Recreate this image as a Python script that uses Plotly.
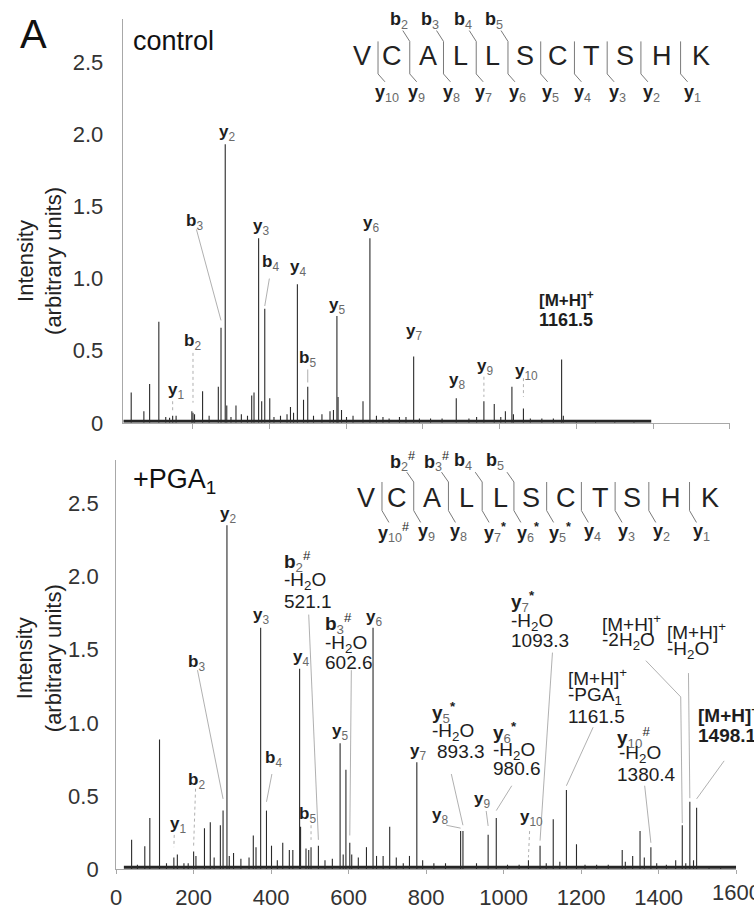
import plotly.graph_objects as go

W, H = 754, 910
FONT = "Liberation Sans, Arial, Helvetica, sans-serif"

# ---------------- data ----------------
control_mz = [40, 73, 88, 112, 130, 140, 148, 157, 198, 201, 205, 226, 243, 267, 274, 285, 289,
              300, 313, 327, 343, 354, 360, 372, 380, 388, 401, 412, 429, 446, 455, 463, 473,
              489, 500, 515, 537, 558, 567, 576, 579, 588, 601, 618, 644, 662, 679, 696, 712,
              739, 756, 776, 791, 820, 850, 887, 920, 940, 959, 986, 1003, 1015, 1032, 1036,
              1062, 1080, 1110, 1140, 1161.5, 1166, 1200, 1250, 1300, 1350]
control_int = [0.21, 0.08, 0.27, 0.70, 0.04, 0.035, 0.05, 0.05, 0.08, 0.07, 0.06, 0.22, 0.05, 0.25, 0.66, 1.93, 0.12,
               0.04, 0.12, 0.06, 0.05, 0.19, 0.21, 1.28, 0.15, 0.79, 0.17, 0.04, 0.05, 0.06, 0.11, 0.07, 0.96,
               0.16, 0.25, 0.05, 0.06, 0.08, 0.09, 0.74, 0.18, 0.09, 0.04, 0.05, 0.15, 1.28, 0.05, 0.04, 0.03,
               0.04, 0.04, 0.46, 0.03, 0.03, 0.03, 0.17, 0.03, 0.04, 0.15, 0.13, 0.04, 0.08, 0.25, 0.06,
               0.10, 0.03, 0.03, 0.03, 0.44, 0.05, 0.02, 0.02, 0.02, 0.02]

pga_mz = [40, 55, 74, 87, 112, 130, 149, 158, 175, 186, 200, 206, 228, 243, 253, 269, 276, 286, 292,
          303, 322, 343, 354, 361, 373, 388, 401, 416, 430, 447, 456, 473.5, 476, 490, 497, 503, 522,
          539, 558, 578, 586, 593, 603, 608, 625, 646, 663, 672, 689, 706, 723, 741, 757, 776, 791,
          820, 850, 889, 895, 930, 960, 981, 1010, 1040, 1064, 1094, 1110, 1128, 1145, 1162, 1188,
          1210, 1240, 1270, 1306, 1314, 1333, 1352, 1363, 1380, 1395, 1420, 1444, 1461, 1470,
          1480.5, 1490, 1498, 1530, 1560]
pga_int = [0.20, 0.03, 0.157, 0.35, 0.886, 0.04, 0.08, 0.10, 0.04, 0.04, 0.12, 0.09, 0.28, 0.32, 0.08, 0.30, 0.40, 2.35, 0.09,
           0.11, 0.07, 0.08, 0.23, 0.15, 1.65, 0.40, 0.16, 0.06, 0.18, 0.13, 0.13, 1.37, 0.29, 0.14, 0.13, 0.15, 0.16,
           0.06, 0.07, 0.86, 0.10, 0.68, 0.18, 0.10, 0.08, 0.15, 1.65, 0.09, 0.09, 0.29, 0.08, 0.04, 0.09, 0.73, 0.06,
           0.04, 0.04, 0.26, 0.26, 0.04, 0.235, 0.35, 0.03, 0.03, 0.06, 0.16, 0.04, 0.34, 0.05, 0.54, 0.17,
           0.03, 0.03, 0.03, 0.13, 0.05, 0.09, 0.26, 0.08, 0.15, 0.04, 0.03, 0.06, 0.30, 0.04,
           0.46, 0.06, 0.42, 0.02, 0.02]

control_baseline_mz = [20, 1395]
pga_baseline_mz = [20, 1600]
baseline_level = [0.012, 0.012]

y_ticks = [0, 0.5, 1.0, 1.5, 2.0, 2.5]
y_tick_text = ["0", "0.5", "1.0", "1.5", "2.0", "2.5"]
x_ticks = [0, 200, 400, 600, 800, 1000, 1200, 1400, 1600]
x_tick_text = ["0", "200", "400", "600", "800", "1000", "1200", "1400", "1600"]

sequence = ["V", "C", "A", "L", "L", "S", "C", "T", "S", "H", "K"]
y_ion_numbers = ["10", "9", "8", "7", "6", "5", "4", "3", "2", "1"]
b_ion_numbers = ["2", "3", "4", "5"]
control_y_marks = ["", "", "", "", "", "", "", "", "", ""]
control_b_marks = ["", "", "", ""]
pga_y_marks = ["#", "", "", "*", "*", "*", "", "", "", ""]
pga_b_marks = ["#", "#", "", ""]

# ---------------- helpers ----------------
def PX(x):
    return x / W

def PY(y):
    return 1 - y / H

SUBC = "#6a6a6a"

def ion(letter, num, mark=""):
    s = f"<b>{letter}</b><sub><span style='color:{SUBC}'>{num}</span></sub>"
    if mark == "*":
        s += "<sup><b>*</b></sup>"
    elif mark:
        s += f"<sup>{mark}</sup>"
    return s

def stick(mz, inten):
    xs, ys = [], []
    for m, h in zip(mz, inten):
        xs += [m, m, None]
        ys += [0, h, None]
    return xs, ys

fig = go.Figure()

for mz, it, bmz, xa, ya in [(control_mz, control_int, control_baseline_mz, "x", "y"),
                            (pga_mz, pga_int, pga_baseline_mz, "x2", "y2")]:
    fig.add_trace(go.Scatter(x=bmz, y=baseline_level, mode="lines",
                             line=dict(color="#262626", width=3), xaxis=xa, yaxis=ya,
                             hoverinfo="skip"))
    xs, ys = stick(mz, it)
    fig.add_trace(go.Scatter(x=xs, y=ys, mode="lines",
                             line=dict(color="#2a2a2a", width=1.1), xaxis=xa, yaxis=ya,
                             hoverinfo="skip"))

annotations = []
shapes = []

def txt(text, x, y, xref, yref, size=17, xanchor="center", yanchor="middle", color="#1e1e1e",
        align="center", angle=0, yshift=0):
    annotations.append(dict(text=text, x=x, y=y, xref=xref, yref=yref, showarrow=False,
                            xanchor=xanchor, yanchor=yanchor, align=align, textangle=angle,
                            yshift=yshift, font=dict(size=size, color=color, family=FONT)))

def peak_height(mz_list, int_list, m):
    best = min(range(len(mz_list)), key=lambda i: abs(mz_list[i] - m))
    return mz_list[best], int_list[best]

def leader(xref, yref, pts, mz_list, int_list, peak, gap, dash="solid"):
    pm, ph = peak_height(mz_list, int_list, peak)
    allp = list(pts) + [(pm, ph + gap)]
    path = "M " + " L ".join(f"{a},{b}" for a, b in allp)
    shapes.append(dict(type="path", path=path, xref=xref, yref=yref,
                       line=dict(color="#9c9c9c", width=0.8, dash=dash)))

# ---------------- top panel labels ----------------
T = ("x", "y")
txt(ion("y", "2"), 290, 2.01, *T)
txt(ion("b", "3"), 205, 1.39, *T)
leader(*T, [(210, 1.34)], control_mz, control_int, 274, 0.05)
txt(ion("y", "3"), 378, 1.36, *T)
txt(ion("b", "4"), 404, 1.11, *T)
leader(*T, [(400, 1.00)], control_mz, control_int, 388, 0.02)
txt(ion("y", "4"), 474, 1.07, *T)
txt(ion("y", "5"), 576, 0.81, *T)
txt(ion("b", "5"), 500, 0.44, *T)
leader(*T, [(500, 0.37)], control_mz, control_int, 500, 0.03)
txt(ion("b", "2"), 200, 0.56, *T)
leader(*T, [(201, 0.485)], control_mz, control_int, 201, 0.07, dash="dot")
txt(ion("y", "1"), 158, 0.22, *T)
leader(*T, [(148, 0.15)], control_mz, control_int, 148, 0.025, dash="dot")
txt(ion("y", "6"), 664, 1.38, *T)
txt(ion("y", "7"), 776, 0.63, *T)
txt(ion("y", "8"), 888, 0.29, *T)
txt(ion("y", "9"), 961, 0.39, *T)
leader(*T, [(959, 0.32)], control_mz, control_int, 959, 0.03, dash="dot")
txt(ion("y", "10"), 1071, 0.355, *T)
leader(*T, [(1062, 0.31)], control_mz, control_int, 1062, 0.08, dash="dot")
txt("<b>[M+H]<sup>+</sup></b>", 1097, 0.86, *T, size=17, xanchor="left")
txt("<b>1161.5</b>", 1097, 0.71, *T, size=18, xanchor="left")

# ---------------- bottom panel labels ----------------
B = ("x2", "y2")
BS = 19
txt(ion("y", "2"), 289, 2.42, *B)
txt(ion("b", "2", "#"), 427, 2.10, *B, size=BS, xanchor="left")
txt("-H<sub>2</sub>O", 427, 1.97, *B, size=BS, xanchor="left")
txt("521.1", 427, 1.83, *B, size=BS, xanchor="left")
leader(*B, [(497, 1.74)], pga_mz, pga_int, 522, 0.04)
txt(ion("y", "3"), 375, 1.73, *B)
txt(ion("b", "3", "#"), 535, 1.68, *B, size=BS, xanchor="left")
txt("-H<sub>2</sub>O", 535, 1.54, *B, size=BS, xanchor="left")
txt("602.6", 535, 1.41, *B, size=BS, xanchor="left")
leader(*B, [(607, 1.36)], pga_mz, pga_int, 603, 0.05)
txt(ion("y", "6"), 665, 1.72, *B)
txt(ion("y", "4"), 476, 1.44, *B)
txt(ion("b", "3"), 207, 1.41, *B)
leader(*B, [(210, 1.36)], pga_mz, pga_int, 276, 0.08)
txt(ion("y", "5"), 579, 0.935, *B)
txt(ion("b", "4"), 407, 0.75, *B)
leader(*B, [(402, 0.65)], pga_mz, pga_int, 388, 0.06)
txt(ion("b", "2"), 207, 0.605, *B)
leader(*B, [(205, 0.55)], pga_mz, pga_int, 200, 0.04, dash="dot")
txt(ion("b", "5"), 494, 0.37, *B)
leader(*B, [(503, 0.30)], pga_mz, pga_int, 503, 0.05, dash="dot")
txt(ion("y", "1"), 159, 0.30, *B)
leader(*B, [(150, 0.234)], pga_mz, pga_int, 149, 0.07, dash="dot")

txt(ion("y", "7", "*"), 1014, 1.83, *B, size=BS, xanchor="left")
txt("-H<sub>2</sub>O", 1014, 1.69, *B, size=BS, xanchor="left")
txt("1093.3", 1014, 1.56, *B, size=BS, xanchor="left")
leader(*B, [(1126, 1.48)], pga_mz, pga_int, 1094, 0.035)

txt("[M+H]<sup>+</sup>", 1249, 1.68, *B, size=BS, xanchor="left")
txt("-2H<sub>2</sub>O", 1249, 1.56, *B, size=BS, xanchor="left")
leader(*B, [(1367, 1.425), (1457, 1.177)], pga_mz, pga_int, 1461, 0.015)

txt("[M+H]<sup>+</sup>", 1416, 1.625, *B, size=BS, xanchor="left")
txt("-H<sub>2</sub>O", 1416, 1.50, *B, size=BS, xanchor="left")
leader(*B, [(1477, 1.34)], pga_mz, pga_int, 1480.5, 0.025)

txt("[M+H]<sup>+</sup>", 1162, 1.31, *B, size=BS, xanchor="left")
txt("-PGA<sub>1</sub>", 1162, 1.18, *B, size=BS, xanchor="left")
txt("1161.5", 1162, 1.04, *B, size=BS, xanchor="left")
leader(*B, [(1231, 0.97)], pga_mz, pga_int, 1162, 0.03)

txt("<b>[M+H]<sup>+</sup></b>", 1496, 1.058, *B, size=BS, xanchor="left")
txt("<b>1498.1</b>", 1496, 0.91, *B, size=BS, xanchor="left")
leader(*B, [(1569, 0.74)], pga_mz, pga_int, 1498, 0.06)

txt(ion("y", "10", "#"), 1288, 0.90, *B, size=BS, xanchor="left")
txt("-H<sub>2</sub>O", 1292, 0.787, *B, size=BS, xanchor="left")
txt("1380.4", 1288, 0.65, *B, size=BS, xanchor="left")
leader(*B, [(1364, 0.57)], pga_mz, pga_int, 1380, 0.03)

txt(ion("y", "6", "*"), 968, 0.935, *B, size=BS, xanchor="left")
txt("-H<sub>2</sub>O", 968, 0.807, *B, size=BS, xanchor="left")
txt("980.6", 968, 0.685, *B, size=BS, xanchor="left")
leader(*B, [(1021, 0.57)], pga_mz, pga_int, 981, 0.05)

txt(ion("y", "5", "*"), 809, 1.07, *B, size=BS, xanchor="left")
txt("-H<sub>2</sub>O", 809, 0.94, *B, size=BS, xanchor="left")
txt("893.3", 822, 0.807, *B, size=BS, xanchor="left")
leader(*B, [(865, 0.65)], pga_mz, pga_int, 895, 0.04)

txt(ion("y", "7"), 778, 0.80, *B)
txt(ion("y", "8"), 835, 0.363, *B)
leader(*B, [(852, 0.30)], pga_mz, pga_int, 889, 0.02)
txt(ion("y", "9"), 945, 0.47, *B)
leader(*B, [(955, 0.397)], pga_mz, pga_int, 960, 0.06)
txt(ion("y", "10"), 1072, 0.35, *B)
leader(*B, [(1067, 0.26)], pga_mz, pga_int, 1064, 0.02, dash="dot")

# last x tick label sits on the right page edge (partly cut, as in the reference)
txt(x_tick_text[-1], x_ticks[-1], 0, "x2", "y2", size=22, color="#333", yanchor="top", yshift=-9)

# ---------------- peptide sequence diagrams ----------------
def sequence_diagram(letter_x, sep_x, ylab_x, blab_x, ly, st, sb, tb, tt, by, yy, ymarks, bmarks):
    for ch, x in zip(sequence, letter_x):
        txt(ch, PX(x), PY(ly), "paper", "paper", size=27, color="#222")
    for i, sx in enumerate(sep_x):
        pts = []
        if 1 <= i <= 4:
            pts.append((sx - 7, tt))
        pts += [(sx, st), (sx, sb), (sx + 7, tb)]
        path = "M " + " L ".join(f"{PX(a)},{PY(b)}" for a, b in pts)
        shapes.append(dict(type="path", path=path, xref="paper", yref="paper",
                           line=dict(color="#7a7a7a", width=1)))
        txt(ion("y", y_ion_numbers[i], ymarks[i]), PX(ylab_x[i] - 2), PY(yy), "paper", "paper",
            size=18, xanchor="left")
    for j, bx in enumerate(blab_x):
        txt(ion("b", b_ion_numbers[j], bmarks[j]), PX(bx - 2), PY(by), "paper", "paper",
            size=18, xanchor="left")

sequence_diagram([359, 389, 425, 458, 490, 523, 556, 590, 624, 661, 701],
                 [375, 407, 441, 474, 506, 539, 573, 606, 640, 680],
                 [372, 405, 440, 473, 507, 540, 573, 608, 642, 683],
                 [387, 418, 452, 483],
                 57, 42, 75, 83, 31, 21, 95, control_y_marks, control_b_marks)
sequence_diagram([363, 394, 429, 464, 498, 529, 564, 599, 631, 670, 710],
                 [379, 411, 446, 480, 512, 545, 580, 614, 648, 689],
                 [375, 415, 448, 482, 515, 547, 583, 617, 652, 692],
                 [387, 421, 452, 484],
                 505, 489, 518, 530, 479, 468, 540, pga_y_marks, pga_b_marks)

# ---------------- panel texts ----------------
txt("A", PX(28), PY(34), "paper", "paper", size=40, color="#111")
txt("control", PX(126), PY(42), "paper", "paper", size=27, xanchor="left", color="#111")
txt("+PGA<sub>1</sub>", PX(126), PY(488), "paper", "paper", size=27, xanchor="left", color="#111")
txt("Intensity<br>(arbitrary units)", PX(34), PY(265), "paper", "paper", size=22, angle=-90, color="#222")
txt("Intensity<br>(arbitrary units)", PX(34), PY(668), "paper", "paper", size=22, angle=-90, color="#222")

AX = dict(showgrid=False, zeroline=False, showline=True, linecolor="#a8a8a8", linewidth=1)
fig.update_layout(
    width=W, height=H, margin=dict(l=0, r=0, t=0, b=0),
    paper_bgcolor="white", plot_bgcolor="white", showlegend=False,
    font=dict(family=FONT, color="#222"),
    xaxis=dict(domain=[PX(117.7), PX(729.7)], range=[18, 1600], anchor="y",
               tickvals=x_ticks, showticklabels=False, ticks="outside", ticklen=5,
               tickcolor="#a8a8a8", **AX),
    yaxis=dict(domain=[PY(429), PY(429 - 2.8 * 146.4)], range=[0, 2.8], anchor="x",
               tickvals=y_ticks, ticktext=y_tick_text, ticks="outside", ticklen=14,
               tickcolor="rgba(0,0,0,0)", tickfont=dict(size=22, color="#333"), **AX),
    xaxis2=dict(domain=[PX(111), PX(736)], range=[0, 1600], anchor="y2",
                tickvals=x_ticks, ticktext=x_tick_text[:-1] + [""],
                ticks="outside", ticklen=4, tickcolor="#a8a8a8", ticklabelstandoff=4,
                tickfont=dict(size=22, color="#333"), **AX),
    yaxis2=dict(domain=[PY(881.7), PY(881.7 - 2.8 * 148.4)], range=[0, 2.8], anchor="x2",
                tickvals=y_ticks, ticktext=y_tick_text, ticks="outside", ticklen=12,
                tickcolor="rgba(0,0,0,0)", tickfont=dict(size=22, color="#333"), **AX),
    annotations=annotations, shapes=shapes,
)

fig.write_html("out.html", config={"displayModeBar": False},
               post_script="document.body.style.margin='0px';")
